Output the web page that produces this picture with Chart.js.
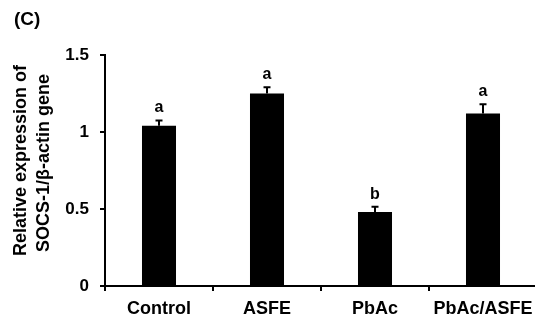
<!DOCTYPE html>
<html>
<head>
<meta charset="utf-8">
<script src="https://cdn.jsdelivr.net/npm/chart.js@4.4.0/dist/chart.umd.min.js"></script>
<style>
  html, body { margin: 0; padding: 0; background: #fff; overflow: hidden; }
  #wrap { width: 545px; height: 320px; }
</style>
</head>
<body>
<div id="wrap"><canvas id="c" width="545" height="320"></canvas></div>
<script>
const categories = ['Control', 'ASFE', 'PbAc', 'PbAc/ASFE'];
const expressionValues = [1.04, 1.25, 0.48, 1.12];
const errorValues = [0.035, 0.04, 0.035, 0.06];
const significanceLetters = ['a', 'a', 'b', 'a'];
const yTickValues = [0, 0.5, 1, 1.5];
const yTitleLines = ['    Relative expression of', '   SOCS-1/\u03b2-actin gene'];
const panelLabel = '(C)';

const FONT = '"Liberation Sans", Arial, sans-serif';

const annotate = {
  id: 'annotate',
  afterDatasetsDraw(chart) {
    const ctx = chart.ctx;
    const x = chart.scales.x, y = chart.scales.y;
    ctx.save();
    ctx.strokeStyle = '#000';
    ctx.fillStyle = '#000';
    ctx.lineWidth = 2;
    expressionValues.forEach((v, i) => {
      const cx = Math.round(x.getPixelForValue(i));
      const top = y.getPixelForValue(v);
      const et = y.getPixelForValue(v + errorValues[i]);
      ctx.beginPath();
      ctx.moveTo(cx, top);
      ctx.lineTo(cx, et);
      ctx.moveTo(cx - 3.5, et);
      ctx.lineTo(cx + 3.5, et);
      ctx.stroke();
      ctx.font = 'bold 16px ' + FONT;
      ctx.textAlign = 'center';
      ctx.textBaseline = 'alphabetic';
      ctx.fillText(significanceLetters[i], cx, et - 8);
    });
    ctx.font = 'bold 19px ' + FONT;
    ctx.textAlign = 'left';
    ctx.textBaseline = 'alphabetic';
    ctx.fillText(panelLabel, 14, 25);
    ctx.restore();
  }
};

new Chart(document.getElementById('c'), {
  type: 'bar',
  data: {
    labels: categories,
    datasets: [{
      data: expressionValues,
      backgroundColor: '#000',
      borderWidth: 0,
      categoryPercentage: 1,
      barPercentage: 0.315
    }]
  },
  options: {
    responsive: false,
    animation: false,
    layout: { padding: { top: 55, bottom: 0, left: 0, right: 8 } },
    plugins: { legend: { display: false }, tooltip: { enabled: false }, title: { display: false } },
    scales: {
      x: {
        offset: true,
        grid: { offset: true, drawOnChartArea: false, drawTicks: true, tickLength: 5, color: '#000', lineWidth: 2 },
        border: { display: true, color: '#000', width: 2 },
        ticks: { color: '#000', font: { family: FONT, size: 18, weight: 'bold' }, padding: 7, maxRotation: 0, autoSkip: false },
        afterFit(s) { s.height = 34; }
      },
      y: {
        min: 0, max: 1.5,
        afterBuildTicks(s) { s.ticks = yTickValues.map(v => ({ value: v })); },
        grid: { drawOnChartArea: false, drawTicks: true, tickLength: 5, color: '#000', lineWidth: 2 },
        border: { display: true, color: '#000', width: 2 },
        ticks: { color: '#000', font: { family: FONT, size: 17, weight: 'bold' }, padding: 11, callback: v => String(v) },
        title: { display: true, text: yTitleLines, color: '#000', font: { family: FONT, size: 18, weight: 'bold', lineHeight: 1.25 }, padding: { top: 10, bottom: 0 } },
        afterFit(s) { s.width = 105; }
      }
    }
  },
  plugins: [annotate]
});
</script>
</body>
</html>
